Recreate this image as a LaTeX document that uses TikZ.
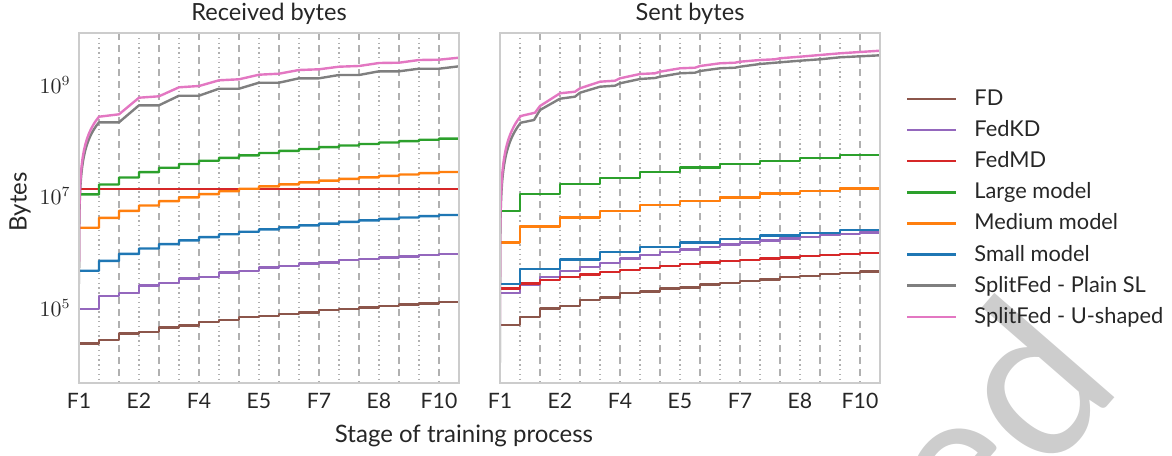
\documentclass[tikz,border=0pt]{standalone}
\usepackage{fontspec}
\setsansfont{Lato}
\definecolor{cFD}{HTML}{8C564B}
\definecolor{cKD}{HTML}{9467BD}
\definecolor{cMD}{HTML}{D62728}
\definecolor{cLg}{HTML}{2CA02C}
\definecolor{cMe}{HTML}{FF7F0E}
\definecolor{cSm}{HTML}{1F77B4}
\definecolor{cPl}{HTML}{7F7F7F}
\definecolor{cUs}{HTML}{E377C2}
\definecolor{frameg}{HTML}{CCCCCC}
\definecolor{gridg}{HTML}{B0B0B0}
\definecolor{wm}{HTML}{CDCDCD}
\tikzset{
  frame/.style={draw=frameg, line width=1pt},
  gridE/.style={draw=gridg, line width=0.7pt, dash pattern=on 0.7pt off 1.7pt},
  gridF/.style={draw=gridg, line width=0.8pt, dash pattern=on 3.6pt off 2.4pt},
  series/.style={line width=1.2pt, line join=round},
  ticklab/.style={font=\sffamily\fontsize{10.6}{12}\selectfont, anchor=base, text=black!85},
  ylab/.style={font=\fontsize{10.5}{12}\selectfont, anchor=base east, text=black!85, inner sep=0pt},
  titlelab/.style={font=\sffamily\fontsize{11.8}{13}\selectfont, anchor=base, text=black!85},
  leglab/.style={font=\sffamily\fontsize{10.9}{12}\selectfont, anchor=base west, text=black!85, inner sep=0pt},
  axlab/.style={font=\sffamily\fontsize{12}{13}\selectfont, text=black!85, anchor=base},
}
\begin{document}
\begin{tikzpicture}[x=0.5pt,y=-0.5pt]
\useasboundingbox (0,0) rectangle (1172,455);
\begin{scope}
\clip (0,0) rectangle (1172,455);
\node[rotate=49, anchor=base east, inner sep=0pt, text=wm,
  font=\sffamily\fontsize{108}{108}\selectfont] (wmark) at (1125,386) {Accepted};
\end{scope}
% grids
\foreach \i in {1,3,...,17} {
  \draw[gridE] ({79+20*\i},33) -- ({79+20*\i},383);
  \draw[gridE] ({500+20*\i},33) -- ({500+20*\i},383);
}
\foreach \i in {2,4,...,18} {
  \draw[gridF] ({79+20*\i},33) -- ({79+20*\i},383);
  \draw[gridF] ({500+20*\i},33) -- ({500+20*\i},383);
}
% ---------- Received bytes (left) ----------
\begin{scope}
\clip (79,33) rectangle (459,383);
\draw[series, cFD] (79,343.3) \foreach \yy [count=\j] in {340,333.3,331.7,327.3,325.3,322,320,317,315.7,313.7,312.3,310,308.7,307.3,306,304.3,303.3,302} { -| ({79+20*\j},\yy) } -- (459,302);
\draw[series, cKD] (79,309) \foreach \yy [count=\j] in {296,292.7,285.3,282.7,278.3,276.7,272.3,270.7,267.3,266,263.3,262.3,260,259,257.3,256.3,254.7,254} { -| ({79+20*\j},\yy) } -- (459,254);
\draw[series, cMD] (79,189) -- (459,189);
\draw[series, cLg] (79,194.3) \foreach \j in {1,...,18} { -| ({79+20*\j},{194.3-24.212*ln((\j+2)/2)}) } -- (459,138.55);
\draw[series, cMe] (79,227.7) \foreach \j in {1,...,18} { -| ({79+20*\j},{227.7-24.212*ln((\j+2)/2)}) } -- (459,171.95);
\draw[series, cSm] (79,270.7) \foreach \j in {1,...,18} { -| ({79+20*\j},{270.7-24.212*ln((\j+2)/2)}) } -- (459,214.95);
\draw[series, cPl] plot[domain=-2.9:0, samples=50] ({79+20*pow(10,\x)},{122.3-55.75*\x})
  -- (119,122.3) -- (139,105.3) -- (159,105.3) -- (179,95.7) -- (199,95.7) -- (219,88.7) -- (239,88.7)
  -- (259,82.7) -- (279,82.7) -- (299,78.3) -- (319,78.3) -- (339,75) -- (359,75) -- (379,71.3)
  -- (399,71.3) -- (419,68.7) -- (439,68.7) -- (459,66.3);
\draw[series, cUs] plot[domain=-2.6:0, samples=50] ({79+20*pow(10,\x)},{116.7-55.75*\x})
  -- (119,114.3) -- (139,97.7) -- (159,96.3) -- (179,87.3) -- (199,86) -- (219,80.3) -- (239,79.3)
  -- (259,74.7) -- (279,73.7) -- (299,70) -- (319,69.3) -- (339,66.7) -- (359,66) -- (379,63)
  -- (399,62.7) -- (419,60) -- (439,59.7) -- (459,57.7);
\end{scope}
% ---------- Sent bytes (right) ----------
\begin{scope}
\clip (500,33) rectangle (880,383);
\draw[series, cFD] (500,325) \foreach \yy [count=\j] in {316.7,308.3,306,300,297.3,292.7,291.3,288.3,287.3,284.3,282.7,280.7,279.3,276.7,275.7,274,272.7,271.3} { -| ({500+20*\j},\yy) } -- (880,271.3);
\draw[series, cKD] (500,292.7) \foreach \yy [count=\j] in {284.3,276.7,271,266.7,262.7,258.3,255,252,249.3,246.7,244.3,242.3,240.3,238.3,236.7,235,234,232.3} { -| ({500+20*\j},\yy) } -- (880,232.3);
\draw[series, cMD] (500,288.3) \foreach \yy [count=\j] in {283.3,280,276.7,274.3,271.7,270,267.7,265.7,264,262.3,260.7,260,258.3,257.3,256,254.7,253.7,252.7} { -| ({500+20*\j},\yy) } -- (880,252.7);
\draw[series, cLg] (500,210.7) \foreach \yy [count=\j] in {194,184,177.7,171.7,167.3,164,160.7,157.7,155} { -| ({480+40*\j},\yy) } -- (880,155);
\draw[series, cMe] (500,242.3) \foreach \yy [count=\j] in {226.5,217.3,210.7,204.7,200.7,197.3,193.3,190.7,188.3} { -| ({480+40*\j},\yy) } -- (880,188.3);
\draw[series, cSm] (500,284) \foreach \yy [count=\j] in {269,259.3,252,246.7,242.3,239,235.3,232.7,230} { -| ({480+40*\j},\yy) } -- (880,230);
\draw[series, cPl] plot[domain=-4:0, samples=60] ({500+20.7*pow(10,\x)},{122.7-60*\x})
  -- (534,120) -- (540,110) -- (560,98.7) -- (575,96.7) -- (580,92.7) -- (600,86.7) -- (615,85.7)
  -- (620,83.3) -- (640,79) -- (655,78) -- (660,76.7) -- (680,73.3) -- (695,72.7) -- (700,71)
  -- (720,68.3) -- (735,67.7) -- (740,66.7) -- (760,64) -- (780,62.3) -- (800,60.7) -- (820,59.3)
  -- (840,57.3) -- (860,56.3) -- (880,55.3);
\draw[series, cUs] plot[domain=-3.5:0, samples=60] ({500+20.7*pow(10,\x)},{116-60*\x})
  -- (535,112.7) -- (540,106) -- (560,93.3) -- (575,91.7) -- (580,88.3) -- (600,81.7) -- (615,80.7)
  -- (620,78.3) -- (640,74) -- (655,73.3) -- (660,71.7) -- (680,68.3) -- (695,67.7) -- (700,66)
  -- (720,63.3) -- (735,62.7) -- (740,61.7) -- (760,60) -- (775,59.3) -- (780,58.3) -- (800,56.7)
  -- (820,55) -- (840,53.3) -- (860,52) -- (880,50.7);
\end{scope}
% frames
\draw[frame] (79,33) rectangle (459,383);
\draw[frame] (500,33) rectangle (880,383);
% titles
\node[titlelab] (t1) at (269,20) {Received bytes};
\node[titlelab] (t2) at (690,20) {Sent bytes};
% y ticks
\node[ylab] (y9) at (71,93.3) {$10^{9}$};
\node[ylab] (y7) at (71,204.8) {$10^{7}$};
\node[ylab] (y5) at (71,316.3) {$10^{5}$};
% x ticks
\foreach \lab [count=\k from 0] in {F1,E2,F4,E5,F7,E8,F10} {
  \node[ticklab] (xl\k) at ({79+60*\k},408.3) {\lab};
  \node[ticklab] (xr\k) at ({500+60*\k},408.3) {\lab};
}
% axis labels
\node[axlab] (xlab) at (464,442.7) {Stage of training process};
\node[axlab, rotate=90] (ylabel) at (26.7,201.7) {Bytes};
% legend
\foreach \c/\lab [count=\k from 0] in {cFD/FD, cKD/FedKD, cMD/FedMD, cLg/Large model, cMe/Medium model, cSm/Small model, cPl/SplitFed - Plain SL, cUs/SplitFed - U-shaped} {
  \draw[series, \c] (907,{99+31.1*\k}) -- (956,{99+31.1*\k});
  \node[leglab] (lg\k) at (974,{105.5+31.1*\k}) {\lab};
}
\end{tikzpicture}
\end{document}
